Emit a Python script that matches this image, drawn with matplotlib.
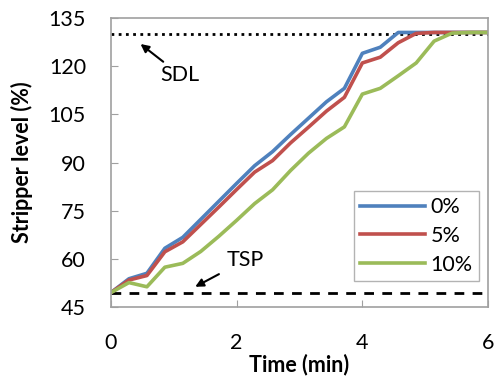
import numpy as np
import matplotlib.pyplot as plt

plt.rcParams['font.family'] = ['Lato', 'DejaVu Sans']

# time axis: 22 samples over 6 min
time_min = np.arange(22) * 6 / 21

level_0 = [49.5, 53.8, 55.5, 63.3, 66.7, 72.3, 77.9, 83.5, 89.0, 93.4, 98.7,
           103.8, 108.9, 113.1, 124.0, 125.9, 130.5, 130.5, 130.5, 130.5, 130.5, 130.5]
level_5 = [49.5, 53.4, 54.8, 62.2, 65.3, 70.7, 76.1, 81.6, 87.0, 90.6, 96.1,
           101.0, 106.0, 110.3, 121.0, 122.8, 127.3, 130.2, 130.5, 130.5, 130.5, 130.5]
level_10 = [49.5, 52.6, 51.3, 57.4, 58.6, 62.3, 67.0, 72.0, 77.2, 81.5, 87.5,
            92.9, 97.5, 101.1, 111.3, 113.1, 117.0, 121.0, 127.8, 130.3, 130.5, 130.5]

labels = ['0%', '5%', '10%']
colors = ['#4F81BD', '#C0504D', '#9BBB59']

SDL = 130
TSP = 49.5

fig = plt.figure(figsize=(4.96, 3.83), dpi=100)
ax = fig.add_axes([0.2238, 0.1984, 0.7601, 0.7546])

ax.axhline(SDL, color='black', lw=2, linestyle=(0, (1, 1.6)), zorder=1)
ax.axhline(TSP, color='black', lw=2, linestyle=(0, (3.5, 3)), zorder=1)

for y, lab, c in zip([level_0, level_5, level_10], labels, colors):
    ax.plot(time_min, y, color=c, lw=2.6, label=lab, zorder=2)

ax.set_xlim(0, 6)
ax.set_ylim(45, 135)
ax.set_xticks([0, 2, 4, 6])
ax.set_yticks(np.arange(45, 136, 15))
ax.tick_params(direction='in', length=5, color='#a0a0a0', labelsize=15.5)
ax.tick_params(axis='y', pad=18)
ax.tick_params(axis='x', pad=19)
for s in ax.spines.values():
    s.set_color('#a0a0a0')
    s.set_linewidth(1.2)

ax.set_xlabel('Time (min)', fontsize=15.5, fontweight='bold', labelpad=0)
ax.set_ylabel('Stripper level (%)', fontsize=15.5, fontweight='bold', labelpad=11)

ax.annotate('SDL', xy=(0.47, 126.9), xytext=(0.78, 117.4), fontsize=15.5,
            va='center', ha='left',
            arrowprops=dict(arrowstyle='-|>', color='black', lw=1.5,
                            shrinkA=0, shrinkB=0, mutation_scale=12))
ax.annotate('TSP', xy=(1.34, 51.3), xytext=(1.84, 59.6), fontsize=15.5,
            va='center', ha='left',
            arrowprops=dict(arrowstyle='-|>', color='black', lw=1.5,
                            shrinkA=4, shrinkB=0, mutation_scale=12))

leg = ax.legend(loc='lower right', bbox_to_anchor=(0.976, 0.09), fontsize=15.5,
                frameon=True, fancybox=False, handlelength=3.0,
                borderpad=0.3, labelspacing=0.4, handletextpad=0.25,
                borderaxespad=0)
leg.get_frame().set_edgecolor('#a0a0a0')
leg.get_frame().set_linewidth(1.0)

fig.savefig('out.png', dpi=100)
